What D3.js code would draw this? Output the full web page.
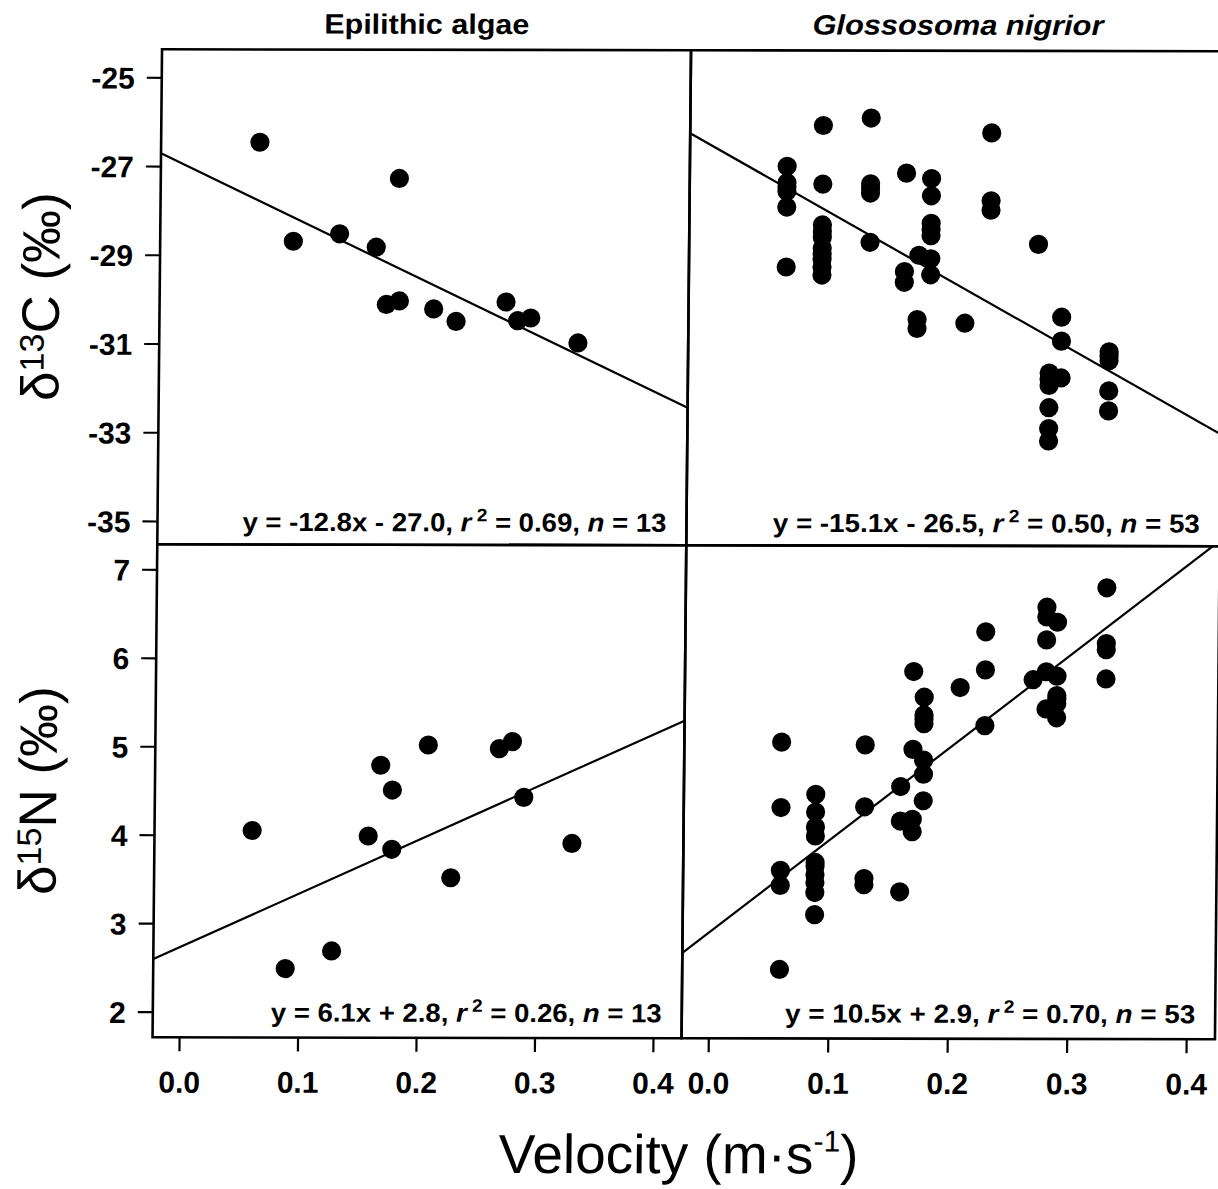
<!DOCTYPE html>
<html>
<head>
<meta charset="utf-8">
<script src="https://cdn.jsdelivr.net/npm/d3@7"></script>
<style>
  body { margin: 0; background: #fff; }
  text { font-family: "Liberation Sans", Arial, Helvetica, sans-serif; fill: #000; white-space: pre; }
</style>
</head>
<body>
<svg id="chart" width="1218" height="1189"></svg>
<script>
// ---------- data ----------
const panelTitles = ["Epilithic algae", "Glossosoma nigrior"];
const velocityTicks = [0.0, 0.1, 0.2, 0.3, 0.4];
const velocityTickLabels = ["0.0", "0.1", "0.2", "0.3", "0.4"];
const carbonTicks = [-25, -27, -29, -31, -33, -35];
const nitrogenTicks = [2, 3, 4, 5, 6, 7];

// Epilithic algae, d13C
const algaeCarbonVelocity = [0.061, 0.090, 0.129, 0.160, 0.179, 0.169, 0.180, 0.209, 0.228, 0.270, 0.280, 0.291, 0.331];
const algaeCarbon = [-26.46, -28.69, -28.52, -28.82, -27.27, -30.11, -30.03, -30.21, -30.49, -30.05, -30.47, -30.41, -30.97];

// Epilithic algae, d15N
const algaeNitrogenVelocity = [0.060, 0.089, 0.128, 0.158, 0.168, 0.178, 0.178, 0.208, 0.228, 0.268, 0.279, 0.289, 0.330];
const algaeNitrogen = [4.05, 2.49, 2.69, 3.99, 4.79, 4.51, 3.84, 5.02, 3.52, 4.98, 5.06, 4.43, 3.91];

// Glossosoma nigrior, d13C
const glossCarbonVelocity = [
  0.059, 0.059, 0.059, 0.059, 0.059, 0.059,
  0.089, 0.089, 0.089, 0.089, 0.089, 0.089, 0.089, 0.089, 0.089, 0.089,
  0.129, 0.129, 0.129, 0.129, 0.129,
  0.159, 0.158, 0.158,
  0.169, 0.169, 0.170,
  0.180, 0.180, 0.180, 0.180, 0.180, 0.180, 0.180,
  0.209,
  0.230, 0.230, 0.230,
  0.270,
  0.290, 0.290, 0.290,
  0.280, 0.280, 0.280, 0.280, 0.280, 0.280,
  0.330, 0.330, 0.330, 0.330, 0.330
];
const glossCarbon = [
  -26.98, -27.35, -27.45, -27.54, -27.90, -29.25,
  -26.06, -27.38, -28.30, -28.45, -28.58, -28.82, -28.95, -29.07, -29.25, -29.43,
  -25.89, -27.37, -27.48, -27.58, -28.69,
  -27.13, -29.35, -29.59,
  -30.43, -30.63, -28.98,
  -27.25, -27.64, -28.26, -28.40, -28.54, -29.06, -29.42,
  -30.51,
  -26.22, -27.75, -27.96,
  -28.73,
  -30.37, -30.91, -31.74,
  -31.63, -31.77, -31.91, -32.41, -32.88, -33.16,
  -31.15, -31.25, -31.35, -32.03, -32.48
];

// Glossosoma nigrior, d15N
const glossNitrogenVelocity = [
  0.059, 0.059, 0.059, 0.059, 0.059,
  0.088, 0.088, 0.088, 0.088, 0.088, 0.088, 0.088, 0.088, 0.088, 0.088,
  0.129, 0.129, 0.129, 0.129,
  0.159, 0.159, 0.159,
  0.169, 0.169, 0.169, 0.169,
  0.178, 0.178, 0.178, 0.178, 0.178, 0.178, 0.178,
  0.208,
  0.229, 0.229, 0.229,
  0.269,
  0.280, 0.280, 0.280, 0.280, 0.280,
  0.289, 0.289, 0.289, 0.289, 0.289, 0.289,
  0.330, 0.330, 0.330, 0.330
];
const glossNitrogen = [
  5.06, 4.32, 3.61, 3.44, 2.49,
  4.47, 4.27, 4.10, 4.00, 3.70, 3.66, 3.56, 3.47, 3.36, 3.11,
  5.03, 4.33, 3.52, 3.45,
  4.56, 4.17, 3.37,
  5.86, 4.98, 4.19, 4.05,
  5.57, 5.37, 5.32, 5.27, 4.86, 4.70, 4.40,
  5.68,
  6.31, 5.88, 5.25,
  5.77,
  6.59, 6.48, 6.22, 5.86, 5.44,
  6.42, 5.81, 5.59, 5.55, 5.50, 5.34,
  6.81, 6.18, 6.11, 5.78
];

// regression lines as drawn, and their printed labels
const fitSlopes = [-12.8, -15.14, 6.06, 10.45];
const fitIntercepts = [-27.0, -26.58, 2.73, 2.91];
const fitLabels = ["y = -12.8x - 27.0", "y = -15.1x - 26.5", "y = 6.1x + 2.8", "y = 10.5x + 2.9"];
const r2Labels = ["0.69", "0.50", "0.26", "0.70"];
const nLabels = ["13", "53", "13", "53"];

// ---------- layout ----------
const colEdges = [162.5, 691.5, 1224.9];
const rowEdges = [49, 544, 1037];
const xDomain = [-0.0224, 0.4241];
const yDomains = [[-24.369, -35.525], [7.2826, 1.7107]];
const eqLengths = [424, 427, 391, 410];
const eqBaselineOffset = [13.5, 16];

const panels = [
  { row: 0, col: 0, xs: algaeCarbonVelocity, ys: algaeCarbon, k: 0 },
  { row: 0, col: 1, xs: glossCarbonVelocity, ys: glossCarbon, k: 1 },
  { row: 1, col: 0, xs: algaeNitrogenVelocity, ys: algaeNitrogen, k: 2 },
  { row: 1, col: 1, xs: glossNitrogenVelocity, ys: glossNitrogen, k: 3 }
];

const svg = d3.select("#chart");
// the scanned figure is slightly skewed
const root = svg.append("g").attr("transform", "matrix(1,0.0018,-0.0096,1,0,0)");
const defs = svg.append("defs");

panels.forEach(p => {
  const x = d3.scaleLinear().domain(xDomain).range([colEdges[p.col], colEdges[p.col + 1]]);
  const y = d3.scaleLinear().domain(yDomains[p.row]).range([rowEdges[p.row], rowEdges[p.row + 1]]);
  const id = "clip" + p.k;
  defs.append("clipPath").attr("id", id).append("rect")
    .attr("x", x.range()[0]).attr("y", y.range()[0])
    .attr("width", x.range()[1] - x.range()[0]).attr("height", y.range()[1] - y.range()[0]);

  const g = root.append("g");
  const inner = g.append("g").attr("clip-path", `url(#${id})`);

  // regression line
  const line = d3.line().x(d => x(d)).y(d => y(fitSlopes[p.k] * d + fitIntercepts[p.k]));
  inner.append("path").datum(xDomain).attr("d", line)
    .attr("fill", "none").attr("stroke", "#000").attr("stroke-width", 2.2);

  // points
  inner.selectAll("circle").data(p.xs.map((v, i) => [v, p.ys[i]])).join("circle")
    .attr("cx", d => x(d[0])).attr("cy", d => y(d[1])).attr("r", 9.6).attr("fill", "#000");

  // frame
  g.append("rect")
    .attr("x", x.range()[0]).attr("y", y.range()[0])
    .attr("width", x.range()[1] - x.range()[0]).attr("height", y.range()[1] - y.range()[0])
    .attr("fill", "none").attr("stroke", "#000").attr("stroke-width", 2.6);

  // y axis on left column
  if (p.col === 0) {
    const ax = d3.axisLeft(y).tickValues(p.row === 0 ? carbonTicks : nitrogenTicks)
      .tickSize(15).tickPadding(12).tickFormat(d => String(d));
    const ag = g.append("g").attr("transform", `translate(${x.range()[0]},0)`).call(ax);
    ag.select(".domain").remove();
    ag.selectAll(".tick line").attr("stroke", "#000").attr("stroke-width", 2.2);
    ag.selectAll(".tick text").attr("font-size", 30).attr("font-weight", "bold")
      .attr("font-family", null).attr("dy", "0.36em");
  }
  // x axis on bottom row
  if (p.row === 1) {
    const ax = d3.axisBottom(x).tickValues(velocityTicks)
      .tickSize(14).tickPadding(20).tickFormat((d, i) => velocityTickLabels[i]);
    const ag = g.append("g").attr("transform", `translate(0,${y.range()[1]})`).call(ax);
    ag.select(".domain").remove();
    ag.selectAll(".tick line").attr("stroke", "#000").attr("stroke-width", 2.2);
    ag.selectAll(".tick text").attr("font-size", 30).attr("font-weight", "bold")
      .attr("font-family", null);
  }

  // equation text
  const ex = colEdges[p.col + 1] - 20 - eqLengths[p.k];
  const ey = rowEdges[p.row + 1] - eqBaselineOffset[p.row];
  const t = g.append("text").attr("x", ex).attr("y", ey)
    .attr("font-size", 26).attr("font-weight", "bold")
    .attr("textLength", eqLengths[p.k]).attr("lengthAdjust", "spacingAndGlyphs");
  t.append("tspan").text(fitLabels[p.k] + ", ");
  t.append("tspan").attr("font-style", "italic").text("r");
  t.append("tspan").attr("font-size", 18).attr("dy", -10).text(" 2");
  t.append("tspan").attr("dy", 10).text(" = " + r2Labels[p.k] + ", ");
  t.append("tspan").attr("font-style", "italic").text("n");
  t.append("tspan").text(" = " + nLabels[p.k]);
});

// panel titles
const titleLengths = [205, 291];
panelTitles.forEach((s, i) => {
  const cx = (colEdges[i] + colEdges[i + 1]) / 2;
  root.append("text").attr("x", cx - titleLengths[i] / 2).attr("y", 33)
    .attr("font-size", 28).attr("font-weight", "bold")
    .attr("font-style", i === 1 ? "italic" : "normal")
    .attr("textLength", titleLengths[i]).attr("lengthAdjust", "spacingAndGlyphs")
    .text(s);
});

// y axis titles
const yTitleParts = [["13", "C (\u2030)"], ["15", "N (\u2030)"]];
const yTitleBaseline = [62, 64];
yTitleParts.forEach((parts, r) => {
  const cy = (rowEdges[r] + rowEdges[r + 1]) / 2;
  const t = root.append("text")
    .attr("transform", `translate(${yTitleBaseline[r]},${cy}) rotate(-90)`)
    .attr("text-anchor", "middle").attr("font-size", 53);
  t.append("tspan").text("\u03B4");
  t.append("tspan").attr("font-size", 34).attr("dy", -15).text(parts[0]);
  t.append("tspan").attr("dy", 15).text(parts[1]);
});

// x axis title
const xt = root.append("text")
  .attr("x", (colEdges[0] + colEdges[2]) / 2 - 4).attr("y", 1172)
  .attr("text-anchor", "middle").attr("font-size", 55);
xt.append("tspan").text("Velocity (m\u00B7s");
xt.append("tspan").attr("font-size", 30).attr("dy", -22).text("-1");
xt.append("tspan").attr("dy", 22).text(")");
</script>
</body>
</html>
